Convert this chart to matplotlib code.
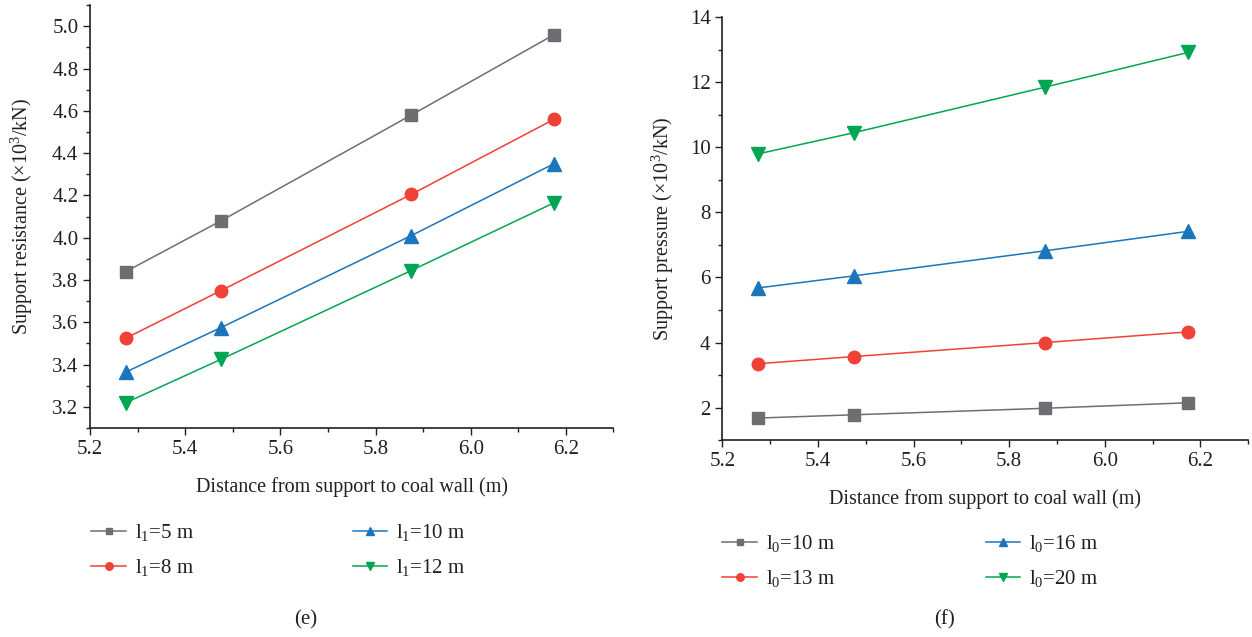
import matplotlib
matplotlib.use("Agg")
import matplotlib.pyplot as plt
from matplotlib.ticker import MultipleLocator, FormatStrFormatter

plt.rcParams['font.family'] = ['Liberation Serif', 'DejaVu Serif']
plt.rcParams['mathtext.fontset'] = 'custom'
plt.rcParams['mathtext.rm'] = 'Liberation Serif'
plt.rcParams['mathtext.it'] = 'Liberation Serif:italic'

# distance from support to coal wall (m)
dist = [5.275, 5.475, 5.875, 6.175]

# (e) support resistance for different l1
res_l1_5 = [3.84, 4.08, 4.58, 4.96]
res_l1_8 = [3.525, 3.75, 4.205, 4.56]
res_l1_10 = [3.365, 3.575, 4.01, 4.35]
res_l1_12 = [3.22, 3.425, 3.845, 4.165]
labels_e = [r'l$_\mathrm{1}$=5 m', r'l$_\mathrm{1}$=8 m', r'l$_\mathrm{1}$=10 m', r'l$_\mathrm{1}$=12 m']

# (f) support pressure for different l0
pre_l0_10 = [1.68, 1.78, 1.98, 2.15]
pre_l0_13 = [3.35, 3.57, 4.0, 4.33]
pre_l0_16 = [5.68, 6.05, 6.82, 7.42]
pre_l0_20 = [9.8, 10.45, 11.85, 12.92]
labels_f = [r'l$_\mathrm{0}$=10 m', r'l$_\mathrm{0}$=13 m', r'l$_\mathrm{0}$=16 m', r'l$_\mathrm{0}$=20 m']

colors = ['#6d6e71', '#ef4136', '#1b75bc', '#00a651']
markers = ['s', 'o', '^', 'v']
msizes = [8, 9, 10, 10]
ink = '#231f20'

fig = plt.figure(figsize=(12.52, 6.37), dpi=100)
ax1 = fig.add_axes([0.072, 0.328, 0.418, 0.664])
ax2 = fig.add_axes([0.577, 0.309, 0.420, 0.664])


def style(ax):
    for s in ['top', 'right']:
        ax.spines[s].set_visible(False)
    for s in ['left', 'bottom']:
        ax.spines[s].set_linewidth(1.2)
        ax.spines[s].set_color(ink)
    ax.tick_params(which='both', direction='out', colors=ink, labelsize=15)
    ax.tick_params(which='major', length=5, width=1)
    ax.tick_params(which='minor', length=3, width=1)
    ax.set_xlim(5.2, 6.3)
    ax.xaxis.set_major_locator(MultipleLocator(0.2))
    ax.xaxis.set_minor_locator(MultipleLocator(0.1))
    ax.xaxis.set_major_formatter(FormatStrFormatter('%.1f'))
    ax.set_xlabel('Distance from support to coal wall (m)', fontsize=14.5, color=ink, labelpad=13)


series_e = [res_l1_5, res_l1_8, res_l1_10, res_l1_12]
h1 = []
for y, c, m, ms, lab in zip(series_e, colors, markers, msizes, labels_e):
    ln, = ax1.plot(dist, y, color=c, marker=m, markersize=ms, lw=1.1, label=lab)
    h1.append(ln)
style(ax1)
ax1.set_ylim(3.1, 5.1)
ax1.yaxis.set_major_locator(MultipleLocator(0.2))
ax1.yaxis.set_minor_locator(MultipleLocator(0.1))
ax1.yaxis.set_major_formatter(FormatStrFormatter('%.1f'))
ax1.set_ylabel('Support resistance (×10$^\\mathrm{3}$/kN)', fontsize=14.5, color=ink, labelpad=12)

series_f = [pre_l0_10, pre_l0_13, pre_l0_16, pre_l0_20]
h2 = []
for y, c, m, ms, lab in zip(series_f, colors, markers, msizes, labels_f):
    ln, = ax2.plot(dist, y, color=c, marker=m, markersize=ms, lw=1.1, label=lab)
    h2.append(ln)
style(ax2)
ax2.set_ylim(1, 14)
ax2.yaxis.set_major_locator(MultipleLocator(2))
ax2.yaxis.set_minor_locator(MultipleLocator(1))
ax2.set_ylabel('Support pressure (×10$^\\mathrm{3}$/kN)', fontsize=14.5, color=ink, labelpad=10)

leg_kw = dict(ncol=2, frameon=False, fontsize=15, handlelength=1.65, markerscale=0.6,
              labelspacing=0.68, handletextpad=0.45, labelcolor=ink)
fig.legend(h1, labels_e, loc='upper left', bbox_to_anchor=(0.058, 0.21),
           columnspacing=7.6, **leg_kw)
fig.legend(h2, labels_f, loc='upper left', bbox_to_anchor=(0.562, 0.193),
           columnspacing=7.2, **leg_kw)

fig.text(0.244, 0.027, '(e)', ha='center', va='center', fontsize=15, color=ink)
fig.text(0.754, 0.027, '(f)', ha='center', va='center', fontsize=15, color=ink)

fig.savefig('out.png', dpi=100)
